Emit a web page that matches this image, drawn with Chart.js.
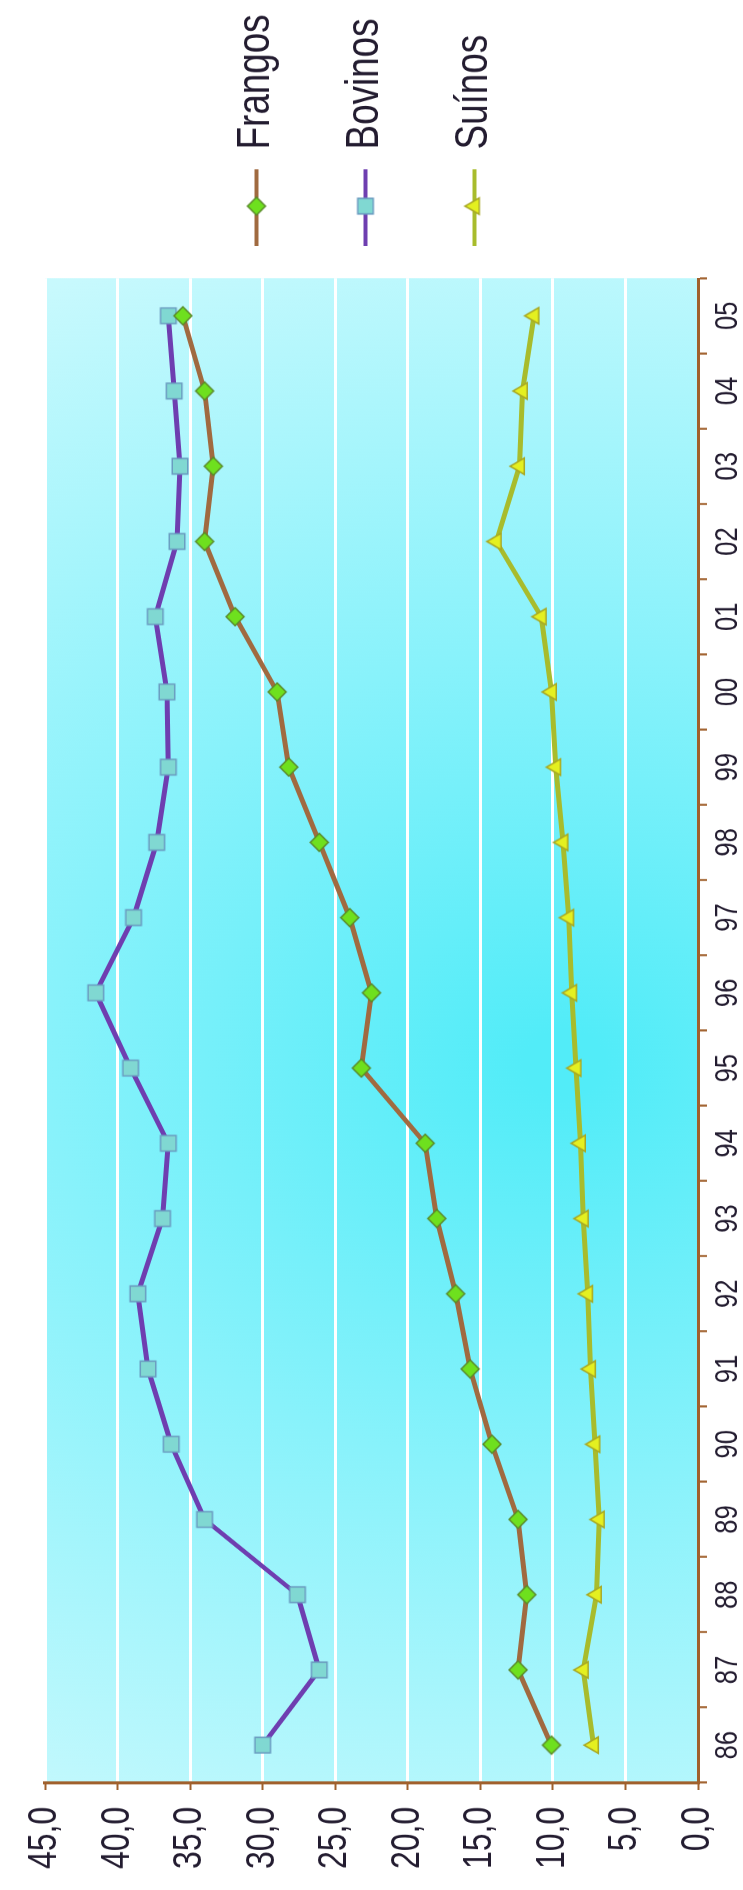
<!DOCTYPE html>
<html>
<head>
<meta charset="utf-8">
<script src="https://cdn.jsdelivr.net/npm/chart.js@4.4.1/dist/chart.umd.min.js"></script>
<style>
  html, body { margin: 0; padding: 0; background: #fff; overflow: hidden; width: 743px; height: 1890px; }
  /* drawn landscape and 1.25x wide, then squeezed and turned a quarter turn:
     this gives the tall, narrow lettering of the reference */
  #wrap { position: absolute; left: 0; top: 0; width: 2363px; height: 743px;
          transform-origin: 0 0; transform: translate(0px, 1890px) rotate(-90deg) scale(0.8, 1); }
</style>
</head>
<body>
<div id="wrap"><canvas id="chart" width="2363" height="743"></canvas></div>
<script>
const years = ['86', '87', '88', '89', '90', '91', '92', '93', '94', '95',
  '96', '97', '98', '99', '00', '01', '02', '03', '04', '05']
const frangos = [10.1, 12.4, 11.8, 12.4, 14.2, 15.7, 16.7, 18.0, 18.8, 23.2,
  22.5, 24.0, 26.1, 28.2, 29.0, 31.9, 34.0, 33.4, 34.0, 35.5]
const bovinos = [30.0, 26.1, 27.6, 34.0, 36.3, 37.9, 38.6, 36.9, 36.5, 39.1,
  41.5, 38.9, 37.3, 36.5, 36.6, 37.4, 35.9, 35.7, 36.1, 36.5]
const suinos = [7.2, 7.9, 7.0, 6.8, 7.1, 7.4, 7.6, 7.9, 8.1, 8.4,
  8.7, 8.9, 9.3, 9.8, 10.1, 10.8, 13.9, 12.3, 12.1, 11.3]
const yTicks = [0, 5, 10, 15, 20, 25, 30, 35, 40, 45]

const K = 1.25 // horizontal squeeze applied by the css transform
const FONT = "'Liberation Sans', Arial, sans-serif"
const TEXT = '#231c30'
const AXIS = '#a0602c'

const series = [
  { label: 'Frangos', data: frangos, line: '#a06a40', fill: '#6ee01e', edge: '#5a8a2a', style: 'rectRot', r: 9 },
  { label: 'Bovinos', data: bovinos, line: '#6e3eb0', fill: '#80d8d2', edge: '#6a9cc0', style: 'rect', r: 11 },
  { label: 'Suínos', data: suinos, line: '#a8bc2c', fill: '#e4f020', edge: '#a8a824', style: 'triangle', r: 9.5 }
]

const paintMarker = (g, s, x, y) => {
  g.save()
  g.translate(x, y)
  g.scale(K, 1)
  g.fillStyle = s.fill
  g.strokeStyle = s.edge
  g.lineWidth = 1.5
  Chart.helpers.drawPoint(g, { pointStyle: s.style, radius: s.r, rotation: 0, borderWidth: 1.5 }, 0, 0)
  g.restore()
}

// markers pre-widened so they come out square after the squeeze
const makeMarker = (s) => {
  const c = document.createElement('canvas')
  c.width = Math.ceil(2 * s.r * K + 6)
  c.height = Math.ceil(2 * s.r + 6)
  paintMarker(c.getContext('2d'), s, c.width / 2, c.height / 2)
  return c
}

// legend sample: a short line with the marker on it
const makeIcon = (s) => {
  const c = document.createElement('canvas')
  c.width = 121
  c.height = 28
  const g = c.getContext('2d')
  g.strokeStyle = s.line
  g.lineWidth = 4
  g.beginPath()
  g.moveTo(0, 14)
  g.lineTo(96, 14)
  g.stroke()
  paintMarker(g, s, 50, 14)
  return c
}
const markers = series.map(makeMarker)
const icons = series.map(makeIcon)

const plotBg = {
  id: 'plotBg',
  beforeDraw(chart) {
    const { ctx, chartArea: a } = chart
    const cx = a.left + 720 * K
    const cy = a.top + 520
    const g = ctx.createRadialGradient(cx, cy, 40, cx, cy, 1100)
    g.addColorStop(0, '#52ecf8')
    g.addColorStop(0.45, '#88f2fb')
    g.addColorStop(1, '#c8f9fd')
    ctx.save()
    ctx.fillStyle = g
    ctx.fillRect(a.left, a.top, a.right - a.left, a.bottom - a.top)
    ctx.restore()
  }
}

new Chart(document.getElementById('chart'), {
  type: 'line',
  data: {
    labels: years,
    datasets: series.map((s, i) => ({
      label: s.label,
      data: s.data,
      borderColor: s.line,
      borderWidth: 5,
      tension: 0,
      pointStyle: markers[i],
      pointRadius: s.r,
      pointBackgroundColor: s.fill,
      pointBorderColor: s.edge
    }))
  },
  options: {
    responsive: false,
    devicePixelRatio: 1,
    animation: false,
    // negative top lifts the legend a little; the empty title gives the plot its top margin
    layout: { padding: { top: -12, right: 8.5, bottom: 0, left: 0 } },
    plugins: {
      title: {
        display: true,
        fullSize: false,
        text: ' ',
        font: { size: 10, lineHeight: 1 },
        padding: { top: 36, bottom: 0 }
      },
      legend: {
        position: 'right',
        align: 'center',
        labels: {
          usePointStyle: true,
          pointStyleWidth: 75,
          padding: 63,
          color: TEXT,
          font: { family: FONT, size: 46 },
          generateLabels: (chart) => chart.data.datasets.map((ds, i) => ({
            text: ds.label,
            pointStyle: icons[i],
            fontColor: TEXT,
            fillStyle: 'transparent',
            strokeStyle: 'transparent',
            lineWidth: 0,
            hidden: false,
            datasetIndex: i
          }))
        }
      },
      tooltip: { enabled: false }
    },
    scales: {
      x: {
        offset: true,
        grid: { offset: true, drawOnChartArea: false, drawTicks: true, tickLength: 9, tickColor: AXIS, tickWidth: 2.5 },
        border: { display: true, color: AXIS, width: 3 },
        ticks: { autoSkip: false, maxRotation: 0, minRotation: 0, padding: 2, color: TEXT, font: { family: FONT, size: 32 } },
        afterFit: (scale) => { scale.height = 45 }
      },
      y: {
        min: 0,
        max: 45,
        afterBuildTicks: (scale) => { scale.ticks = yTicks.map((v) => ({ value: v })) },
        grid: { color: '#ffffff', lineWidth: 3, tickLength: 9, tickColor: AXIS, tickWidth: 2 },
        border: { display: true, color: AXIS, width: 3.75 },
        ticks: {
          padding: 21,
          color: TEXT,
          font: { family: FONT, size: 40 },
          callback: (v) => v.toFixed(1).replace('.', ',')
        },
        afterFit: (scale) => { scale.width = 134 }
      }
    }
  },
  plugins: [plotBg]
})
</script>
</body>
</html>
